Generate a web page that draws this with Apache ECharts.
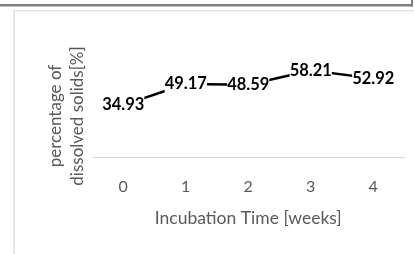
<!DOCTYPE html>
<html><head><meta charset="utf-8">
<script src="https://cdn.jsdelivr.net/npm/echarts@6/dist/echarts.min.js"></script>
<style>html,body{margin:0;padding:0;background:#fff}#c{width:414px;height:254px}</style>
</head><body><div id="c"></div>
<script>
const categories = ['0', '1', '2', '3', '4'];
const values = [34.93, 49.17, 48.59, 58.21, 52.92];
const xTitle = 'Incubation Time [weeks]';
const yTitle = 'percentage of\ndissolved solids[%]';

const chart = echarts.init(document.getElementById('c'), null, {renderer: 'canvas'});
chart.setOption({
  animation: false,
  backgroundColor: '#fff',
  grid: {left: 92, right: 9.5, top: 53, bottom: 97},
  xAxis: {
    type: 'category', data: categories, boundaryGap: true,
    axisLine: {show: true, lineStyle: {color: '#d9d9d9', width: 1}},
    axisTick: {show: false},
    axisLabel: {color: '#595959', fontFamily: 'Lato', fontSize: 16, margin: 22},
    name: xTitle, nameLocation: 'middle', nameGap: 52,
    nameTextStyle: {color: '#595959', fontFamily: 'Lato', fontSize: 17.5}
  },
  yAxis: {
    type: 'value', min: 0, max: 70,
    axisLine: {show: false}, axisTick: {show: false}, axisLabel: {show: false},
    splitLine: {show: false}
  },
  series: [{
    type: 'line', data: values,
    symbol: 'circle', symbolSize: 0.1, showSymbol: true,
    itemStyle: {color: '#000'},
    lineStyle: {color: '#000', width: 2.5},
    label: {show: true, position: 'inside', color: '#000', fontFamily: 'Lato', fontWeight: 'bold', fontSize: 16.5,
            backgroundColor: '#fff', padding: [0, 0]}
  }],
  graphic: [
    {type: 'rect', shape: {x: 0, y: 4, width: 413, height: 2.5}, style: {fill: '#808080'}},
    {type: 'rect', shape: {x: 411, y: 0, width: 2, height: 6.5}, style: {fill: '#808080'}},
    {type: 'rect', shape: {x: 13, y: 10, width: 2, height: 244}, style: {fill: '#e6e6e6'}},
    {type: 'rect', shape: {x: 13, y: 10, width: 401, height: 1.5}, style: {fill: '#e6e6e6'}},
    {type: 'text', x: 67, y: 116, rotation: Math.PI / 2,
     style: {text: yTitle, fill: '#595959', font: '17px Lato', align: 'center', verticalAlign: 'middle', lineHeight: 22}}
  ]
});
</script></body></html>
